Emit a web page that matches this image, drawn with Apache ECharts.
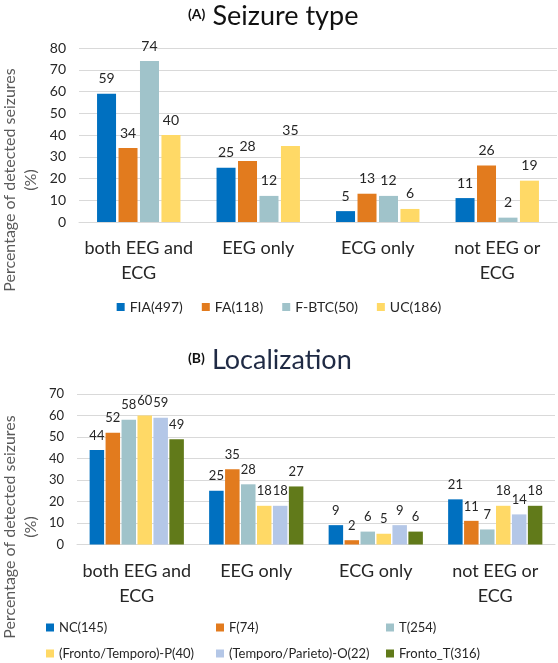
<!DOCTYPE html>
<html>
<head>
<meta charset="utf-8">
<script src="https://cdn.jsdelivr.net/npm/echarts@6/dist/echarts.min.js"></script>
<style>
html,body{margin:0;padding:0;background:#fff;}
#c{width:558px;height:663px;}
</style>
</head>
<body>
<div id="c"></div>
<script>
// ---- data ----
var categoriesA = ['both EEG and\nECG', 'EEG only', 'ECG only', 'not EEG or\nECG'];
var seriesNamesA = ['FIA(497)', 'FA(118)', 'F-BTC(50)', 'UC(186)'];
var fiaA = [59, 25, 5, 11];
var faA = [34, 28, 13, 26];
var fbtcA = [74, 12, 12, 2];
var ucA = [40, 35, 6, 19];

var categoriesB = ['both EEG and\nECG', 'EEG only', 'ECG only', 'not EEG or\nECG'];
var seriesNamesB = ['NC(145)', 'F(74)', 'T(254)', '(Fronto/Temporo)-P(40)', '(Temporo/Parieto)-O(22)', 'Fronto_T(316)'];
var ncB = [44, 25, 9, 21];
var fB = [52, 35, 2, 11];
var tB = [58, 28, 6, 7];
var ftpB = [60, 18, 5, 18];
var tpoB = [59, 18, 9, 14];
var frontoTB = [49, 27, 6, 18];

var yTicksA = {min: 0, max: 80, interval: 10};
var yTicksB = {min: 0, max: 70, interval: 10};

// ---- styling ----
var FONT = 'Lato';
var colorsA = ['#0070C0', '#E27B1E', '#A0C3CA', '#FFD966'];
var colorsB = ['#0070C0', '#E27B1E', '#A0C3CA', '#FFD966', '#B4C7E7', '#617A1A'];
var gridColor = '#D9D9D9';
var textColor = '#262626';

var chart = echarts.init(document.getElementById('c'), null, {renderer: 'canvas'});

function mkSeries(name, data, color, xi, yi, bw, gap, fs) {
  return {
    type: 'bar', name: name, data: data, xAxisIndex: xi, yAxisIndex: yi,
    barWidth: bw, barGap: gap,
    itemStyle: {color: color},
    label: {show: true, position: 'top', distance: 8,
      fontFamily: FONT, fontSize: fs, color: textColor},
    emphasis: {disabled: true},
    animation: false
  };
}

var seriesA = [fiaA, faA, fbtcA, ucA].map(function (d, i) {
  return mkSeries(seriesNamesA[i], d, colorsA[i], 0, 0, 19, '13%', 14);
});
var seriesB = [ncB, fB, tB, ftpB, tpoB, frontoTB].map(function (d, i) {
  return mkSeries(seriesNamesB[i], d, colorsB[i], 1, 1, 14.5, '10%', 13);
});

function yAx(gi, t, fs) {
  return {
    type: 'value', gridIndex: gi, min: t.min, max: t.max, interval: t.interval,
    axisLine: {show: false}, axisTick: {show: false},
    splitLine: {lineStyle: {color: gridColor, width: 1}},
    axisLabel: {fontFamily: FONT, fontSize: fs, color: textColor, margin: 13}
  };
}
function xAx(gi, cats) {
  return {
    type: 'category', gridIndex: gi, data: cats,
    axisLine: {show: true, lineStyle: {color: gridColor}},
    axisTick: {show: false},
    axisLabel: {fontFamily: FONT, fontSize: 18, color: textColor, margin: 14, lineHeight: 25, interval: 0}
  };
}

var legendB = seriesNamesB.map(function (n, i) {
  var col = i % 3, row = Math.floor(i / 3);
  return {
    data: [n], left: 46 + col * 170, top: 621 + row * 26, padding: 0,
    itemWidth: 8, itemHeight: 8, itemGap: 6, icon: 'rect',
    textStyle: {fontFamily: FONT, fontSize: 13, color: textColor}
  };
});

var option = {
  animation: false,
  title: [
    {text: '{a|(A)} {b|Seizure type}', left: 183, top: -2,
     textStyle: {rich: {a: {fontFamily: FONT, fontWeight: 'bold', fontSize: 14, color: '#111', padding: [0, 2, 4, 0]},
                        b: {fontFamily: FONT, fontWeight: 'normal', fontSize: 27, color: '#111'}}}},
    {text: '{a|(B)} {b|Localization}', left: 183, top: 342,
     textStyle: {rich: {a: {fontFamily: FONT, fontWeight: 'bold', fontSize: 14, color: '#111', padding: [0, 2, 4, 0]},
                        b: {fontFamily: FONT, fontWeight: 'normal', fontSize: 27, color: '#1f2a44'}}}}
  ],
  grid: [
    {left: 79, right: 1, top: 48, height: 174},
    {left: 77, right: 3, top: 394, height: 150.5}
  ],
  legend: [{
    data: seriesNamesA, left: 'center', top: 300, padding: 0,
    itemWidth: 8, itemHeight: 8, itemGap: 19, icon: 'rect',
    textStyle: {fontFamily: FONT, fontSize: 14, color: textColor}
  }].concat(legendB),
  xAxis: [xAx(0, categoriesA), xAx(1, categoriesB)],
  yAxis: [yAx(0, yTicksA, 14), yAx(1, yTicksB, 13)],
  graphic: [
    {type: 'text', x: 10, y: 180, rotation: Math.PI / 2,
     style: {text: 'Percentage of detected seizures', font: '16px Lato', fill: '#595959', align: 'center', verticalAlign: 'middle'}},
    {type: 'text', x: 31, y: 180, rotation: Math.PI / 2,
     style: {text: '(%)', font: '16px Lato', fill: '#595959', align: 'center', verticalAlign: 'middle'}},
    {type: 'text', x: 10, y: 527, rotation: Math.PI / 2,
     style: {text: 'Percentage of detected seizures', font: '16px Lato', fill: '#595959', align: 'center', verticalAlign: 'middle'}},
    {type: 'text', x: 31, y: 527, rotation: Math.PI / 2,
     style: {text: '(%)', font: '16px Lato', fill: '#595959', align: 'center', verticalAlign: 'middle'}}
  ],
  series: seriesA.concat(seriesB)
};
chart.setOption(option);
</script>
</body>
</html>
